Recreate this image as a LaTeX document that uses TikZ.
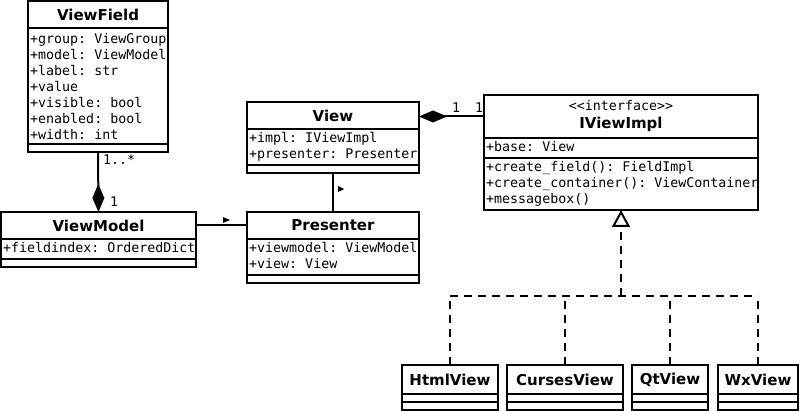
\documentclass[tikz,border=0pt]{standalone}
\usepackage{fontspec}
\setmonofont{DejaVu Sans Mono}
\newfontfamily\umlsans{DejaVu Sans}
\usetikzlibrary{arrows.meta,positioning}

\newcommand{\titlefont}{\umlsans\bfseries\fontsize{15}{18}\selectfont}
\newcommand{\memberfont}{\ttfamily\mdseries\fontsize{13.3}{16}\selectfont}

\tikzset{
    uml/.style={draw, line width=1.9pt, inner sep=0pt, outer sep=0pt},
    classname/.style={uml, font=\titlefont, minimum height=27pt},
    compartment/.style={uml, minimum height=#1},
    members/.style={anchor=north west, align=left, font=\memberfont, inner xsep=2pt, inner ysep=5pt},
    mult/.style={font=\memberfont, inner sep=0pt, anchor=base west},
    composition/.style={line width=2pt, -{Diamond[length=28pt,width=12pt]}},
    association/.style={line width=2pt},
    realize/.style={line width=2pt, dash pattern=on 8pt off 6pt},
}

\begin{document}
\begin{tikzpicture}[x=1pt, y=-1pt]
    \useasboundingbox (0,0) rectangle (800,411);

    % ViewField
    \node[classname, minimum width=140pt, anchor=north west] (ViewField) at (28,1) {ViewField};
    \node[compartment=116pt, minimum width=140pt, below=0pt of ViewField,
        label={[members]north west:{+group: ViewGroup\\+model: ViewModel\\+label: str\\+value\\+visible: bool\\+enabled: bool\\+width: int}}] (ViewField-attr) {};
    \node[compartment=8pt, minimum width=140pt, below=0pt of ViewField-attr] (ViewField-ops) {};

    % ViewModel
    \node[classname, minimum width=195pt, anchor=north west] (ViewModel) at (1,212) {ViewModel};
    \node[compartment=20pt, minimum width=195pt, below=0pt of ViewModel,
        label={[members, inner ysep=3pt]north west:{+fieldindex: OrderedDict}}] (ViewModel-attr) {};
    \node[compartment=8pt, minimum width=195pt, below=0pt of ViewModel-attr] (ViewModel-ops) {};

    % View
    \node[classname, minimum width=172pt, anchor=north west] (View) at (247,102) {View};
    \node[compartment=36pt, minimum width=172pt, below=0pt of View,
        label={[members, inner ysep=3pt]north west:{+impl: IViewImpl\\+presenter: Presenter}}] (View-attr) {};
    \node[compartment=8pt, minimum width=172pt, below=0pt of View-attr] (View-ops) {};

    % Presenter
    \node[classname, minimum width=172pt, anchor=north west] (Presenter) at (247,212) {Presenter};
    \node[compartment=36pt, minimum width=172pt, below=0pt of Presenter,
        label={[members, inner ysep=3pt]north west:{+viewmodel: ViewModel\\+view: View}}] (Presenter-attr) {};
    \node[compartment=8pt, minimum width=172pt, below=0pt of Presenter-attr] (Presenter-ops) {};

    % IViewImpl
    \node[classname, minimum width=274pt, minimum height=43pt, anchor=north west, align=center] (IViewImpl) at (484,95)
        {{\memberfont <<interface>>}\\IViewImpl};
    \node[compartment=20pt, minimum width=274pt, below=0pt of IViewImpl,
        label={[members, inner ysep=3pt]north west:{+base: View}}] (IViewImpl-attr) {};
    \node[compartment=52pt, minimum width=274pt, below=0pt of IViewImpl-attr,
        label={[members, inner ysep=3pt]north west:{+create\_field(): FieldImpl\\+create\_container(): ViewContainer\\+messagebox()}}] (IViewImpl-ops) {};

    % implementations
    \node[classname, minimum width=96pt, minimum height=29pt, anchor=north west] (HtmlView) at (402,365) {HtmlView};
    \node[compartment=8pt, minimum width=96pt, below=0pt of HtmlView] (HtmlView-attr) {};
    \node[compartment=8pt, minimum width=96pt, below=0pt of HtmlView-attr] (HtmlView-ops) {};

    \node[classname, minimum width=116pt, minimum height=29pt, anchor=north west] (CursesView) at (507,365) {CursesView};
    \node[compartment=8pt, minimum width=116pt, below=0pt of CursesView] (CursesView-attr) {};
    \node[compartment=8pt, minimum width=116pt, below=0pt of CursesView-attr] (CursesView-ops) {};

    \node[classname, minimum width=76pt, minimum height=29pt, anchor=north west] (QtView) at (632,365) {QtView};
    \node[compartment=8pt, minimum width=76pt, below=0pt of QtView] (QtView-attr) {};
    \node[compartment=8pt, minimum width=76pt, below=0pt of QtView-attr] (QtView-ops) {};

    \node[classname, minimum width=80pt, minimum height=29pt, anchor=north west] (WxView) at (718,365) {WxView};
    \node[compartment=8pt, minimum width=80pt, below=0pt of WxView] (WxView-attr) {};
    \node[compartment=8pt, minimum width=80pt, below=0pt of WxView-attr] (WxView-ops) {};

    % compositions
    \draw[composition] (ViewField-ops.south) -- (ViewModel.north);
    \node[mult] (many) at (103,165) {1..*};
    \node[mult] (one) at (110,207) {1};

    \draw[composition] (IViewImpl.west) -- (IViewImpl.west -| View.east);
    \node[mult] (viewone) at (452,113) {1};
    \node[mult] (implone) at (475,113) {1};

    % associations
    \draw[association] (ViewModel.east) -- (Presenter.west);
    \fill (223,217) -- (230,220) -- (223,223) -- cycle;
    \draw[association] (View-ops.south) -- (Presenter.north);
    \fill (338,186) -- (344,189) -- (338,192) -- cycle;

    % realization
    \coordinate (bus) at (IViewImpl-ops.south |- 0,296);
    \draw[realize] (HtmlView.north |- bus) -- (WxView.north |- bus);
    \foreach \impl in {HtmlView,CursesView,QtView,WxView}
        \draw[realize] (\impl.north) -- (\impl.north |- bus);
    \draw[realize, -{Triangle[open, length=17pt, width=18pt, fill=white]}] (bus) -- (IViewImpl-ops.south);
\end{tikzpicture}
\end{document}
